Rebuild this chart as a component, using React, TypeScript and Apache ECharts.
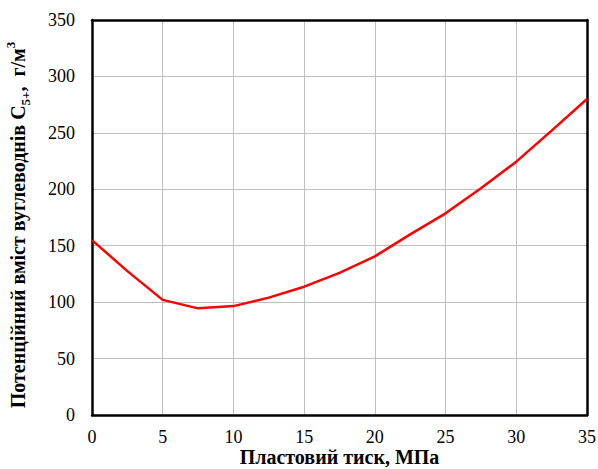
import React, { useEffect, useRef } from "react";
import * as echarts from "echarts";

const pressure = [0, 2.5, 5, 7.5, 10, 12.5, 15, 17.5, 20, 22.5, 25, 27.5, 30, 32.5, 35];
const content = [155, 127.5, 102, 94.5, 96.5, 104, 113.7, 126, 140.5, 160, 178.7, 201, 224.5, 252, 280];

const xTitle = "Пластовий тиск, МПа";
const yTitle = "{n|Потенційний вміст вуглеводнів C}{sub|5+}{n|,  г/м}{sup|3}";

export default function App() {
  const ref = useRef<HTMLDivElement>(null);
  useEffect(() => {
    document.body.style.margin = "0";
    document.body.style.overflow = "hidden";
    if (!ref.current) return;
    const chart = echarts.init(ref.current, null, { renderer: "svg" });
    const font = "'Liberation Serif', 'Times New Roman', serif";
    const frameAxis = { show: true, onZero: false, lineStyle: { color: "#000", width: 2.5 } };
    chart.setOption({
      animation: false,
      grid: { left: 92, right: 11, top: 20, bottom: 54, containLabel: false, outerBoundsMode: "none" },
      xAxis: [
        {
          type: "value",
          min: 0,
          max: 35,
          interval: 5,
          name: xTitle,
          nameLocation: "middle",
          nameGap: 32,
          nameMoveOverlap: false,
          nameTextStyle: { fontFamily: font, fontSize: 20, fontWeight: "bold", color: "#000", lineHeight: 20 },
          axisLine: frameAxis,
          axisTick: { show: false },
          axisLabel: { fontFamily: font, fontSize: 18, color: "#000", margin: 13 },
          splitLine: { show: true, lineStyle: { color: "#bfbfbf", width: 1 } },
        },
        { type: "value", min: 0, max: 35, position: "top", axisLine: frameAxis, axisTick: { show: false }, axisLabel: { show: false }, splitLine: { show: false } },
      ],
      yAxis: [
        {
          type: "value",
          min: 0,
          max: 350,
          interval: 50,
          name: yTitle,
          nameLocation: "middle",
          nameGap: 60,
          nameTextStyle: {
            fontFamily: font,
            fontSize: 20,
            fontWeight: "bold",
            color: "#000",
            padding: [0, 15, 0, 0],
            rich: {
              n: { fontFamily: font, fontSize: 20, fontWeight: "bold", color: "#000", lineHeight: 28, verticalAlign: "middle" },
              sub: { fontFamily: font, fontSize: 13, fontWeight: "bold", color: "#000", lineHeight: 28, verticalAlign: "bottom" },
              sup: { fontFamily: font, fontSize: 13, fontWeight: "bold", color: "#000", lineHeight: 28, verticalAlign: "top" },
            },
          },
          axisLine: frameAxis,
          axisTick: { show: false },
          axisLabel: { fontFamily: font, fontSize: 18, color: "#000", margin: 17 },
          splitLine: { show: true, lineStyle: { color: "#bfbfbf", width: 1 } },
        },
        { type: "value", min: 0, max: 350, position: "right", axisLine: frameAxis, axisTick: { show: false }, axisLabel: { show: false }, splitLine: { show: false } },
      ],
      series: [
        {
          type: "line",
          data: pressure.map((p, i) => [p, content[i]]),
          showSymbol: false,
          symbol: "none",
          lineStyle: { color: "#ff0000", width: 2.5 },
        },
      ],
    });
    return () => chart.dispose();
  }, []);
  return <div ref={ref} style={{ width: 598, height: 469 }} />;
}
